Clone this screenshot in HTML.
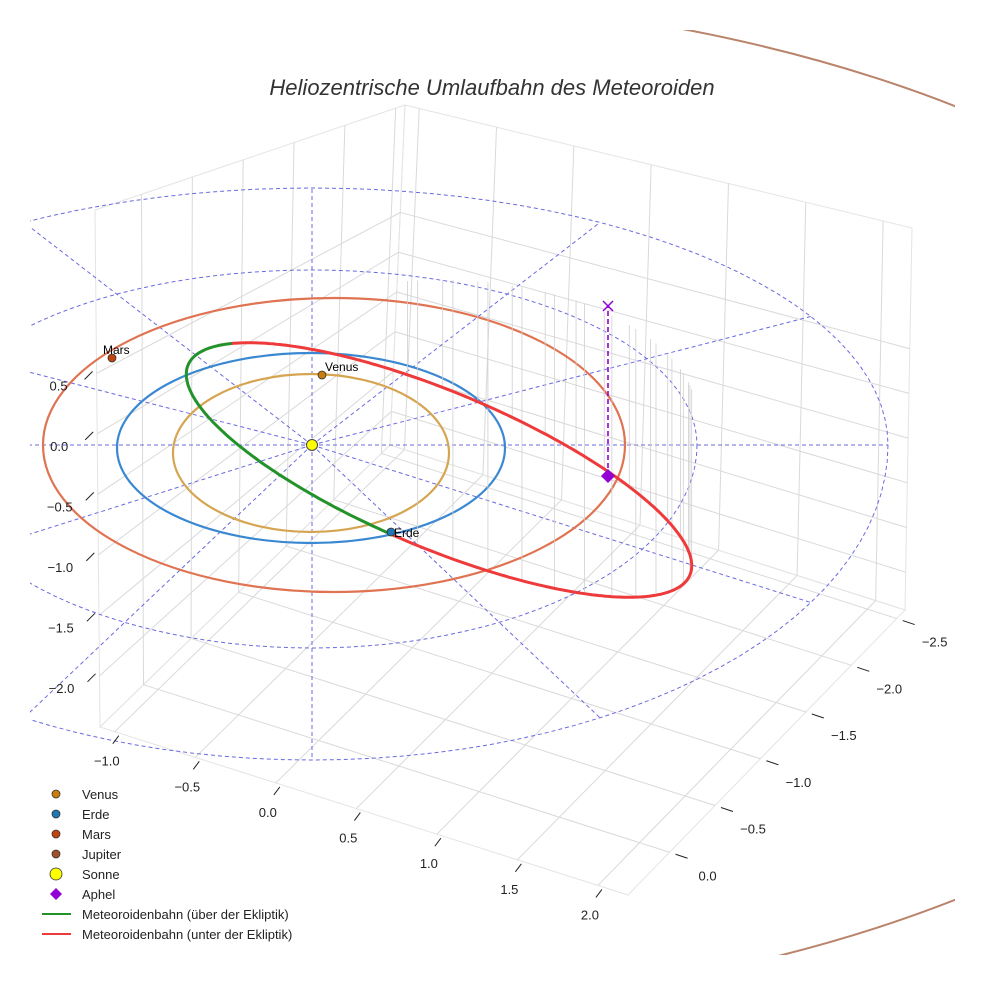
<!DOCTYPE html>
<html><head><meta charset="utf-8">
<style>
html,body{margin:0;padding:0;background:#fff;}
svg{display:block;font-family:"Liberation Sans",sans-serif;}
</style></head>
<body>
<svg id="chart" width="984" height="984" viewBox="0 0 984 984">
<defs><clipPath id="clip"><rect x="30" y="30" width="925" height="925"/></clipPath></defs>
<text x="492" y="95" text-anchor="middle" font-size="22" font-style="italic" fill="#333">Heliozentrische Umlaufbahn des Meteoroiden</text>
<g id="grid" clip-path="url(#clip)"></g>
<g id="plot" clip-path="url(#clip)"></g>
<g id="ticks"></g>
<g id="legend"></g>
</svg>
<script>
// ---- data ----
const xTickLabels = ["−1.0","−0.5","0.0","0.5","1.0","1.5","2.0"];
const yTickLabels = ["0.0","−0.5","−1.0","−1.5","−2.0","−2.5"];
const zTickLabels = ["0.5","0.0","−0.5","−1.0","−1.5","−2.0"];
const planetNames = ["Venus","Erde","Mars"];
const planetX = [322, 391, 112];
const planetY = [375, 532, 358];
const planetColors = ["#c87d0e","#1f77b4","#c1440e"];
const orbitNames = ["venus-orbit","earth-orbit","mars-orbit","jupiter-orbit"];
const orbitCx = [311, 311, 334, 312];
const orbitCy = [453, 448, 445, 503];
const orbitRx = [138, 194, 291, 1030];
const orbitRy = [79, 95, 147, 508];
const orbitColors = ["#d6a552","#3a88d2","#e07352","#b9846b"];
// ecliptic reference circles: left/right extents and top/bottom extents (screen)
const eclipticLeft = [-73, -264];
const eclipticRight = [697, 888];
const eclipticTop = [270, 188];
const eclipticBottom = [648, 760];
const radialAngles = [0,30,60,90,120,150,180,210,240,270,300,330];
const sunPos = [312, 445];
const aphelPos = [608, 476];
const aphelTopY = 306;
// meteoroid orbit (screen ellipse)
const metCenter = [439, 470];
const metAxes = [272, 78];
const metRotDeg = 22.7;
const greenRangeDeg = [94.6, 208];

const NS = "http://www.w3.org/2000/svg";
function mk(tag, attrs, parent){const e=document.createElementNS(NS,tag);for(const k in attrs)e.setAttribute(k,attrs[k]);parent.appendChild(e);return e;}
const grid=document.getElementById('grid'), plot=document.getElementById('plot'), ticks=document.getElementById('ticks'), legend=document.getElementById('legend');

// box geometry
const L=[100,727],F=[628,895],R=[905,610],B=[390,445],Lt=[95,210],Bt=[405,105],Rt=[912,228];
function quad(p00,p10,p01,p11,s,t){return [0,1].map(i=>(1-s)*(1-t)*p00[i]+s*(1-t)*p10[i]+(1-s)*t*p01[i]+s*t*p11[i]);}
const xFrac=i=>0.028+i*0.1525, yFrac=i=>0.15+i*0.164, zFrac=i=>0.684-i*0.117;
function gl(a,b,name){const e=mk('line',{x1:a[0],y1:a[1],x2:b[0],y2:b[1],stroke:'#d9d9d9','stroke-width':1},grid);}
for(const [p,name] of [[[L,F,R,B],'floor-pane'],[[L,B,Bt,Lt],'left-pane'],[[B,R,Rt,Bt],'right-pane']]){
  const e=mk('polygon',{points:p.map(q=>q.join(',')).join(' '),fill:'none',stroke:'#e4e4e4','stroke-width':1},grid);
  
}
xTickLabels.forEach((_,i)=>{const s=xFrac(i);
  gl(quad(L,F,B,R,s,0),quad(L,F,B,R,s,1),'floor-grid-x');
  gl(quad(B,R,Bt,Rt,s,0),quad(B,R,Bt,Rt,s,1),'right-pane-grid-x');});
yTickLabels.forEach((_,i)=>{const t=yFrac(i);
  gl(quad(L,F,B,R,0,t),quad(L,F,B,R,1,t),'floor-grid-y');
  gl(quad(L,B,Lt,Bt,t,0),quad(L,B,Lt,Bt,t,1),'left-pane-grid-y');});
zTickLabels.forEach((_,i)=>{const w=zFrac(i);
  gl(quad(L,B,Lt,Bt,0,w),quad(L,B,Lt,Bt,1,w),'left-pane-grid-z');
  gl(quad(B,R,Bt,Rt,0,w),quad(B,R,Bt,Rt,1,w),'right-pane-grid-z');});

// ticks and labels
function tickLabel(x,y,txt,name){const e=mk('text',{x:x,y:y,'font-size':13,fill:'#222','text-anchor':'middle'},ticks);e.textContent=txt;}
xTickLabels.forEach((lab,i)=>{const p=quad(L,F,B,R,xFrac(i),0);
  mk('line',{x1:p[0]-2,y1:p[1]+12,x2:p[0]+4,y2:p[1]+4,stroke:'#222','stroke-width':1},ticks);
  tickLabel(p[0]-8,p[1]+34,lab,'x-tick-label');});
yTickLabels.forEach((lab,i)=>{const p=quad(L,F,B,R,1,yFrac(i));
  mk('line',{x1:p[0]+6,y1:p[1]+2,x2:p[0]+18,y2:p[1]+6,stroke:'#222','stroke-width':1},ticks);
  tickLabel(p[0]+38,p[1]+28,lab,'y-tick-label');});
zTickLabels.forEach((lab,i)=>{const p=quad(L,B,Lt,Bt,0,zFrac(i));
  mk('line',{x1:p[0]-12,y1:p[1]+6,x2:p[0]-4,y2:p[1]-2,stroke:'#222','stroke-width':1},ticks);
  tickLabel(p[0]-38,p[1]+17,lab,'z-tick-label');});

// ecliptic circles and radial lines
function eclPt(i,deg){const r=deg*Math.PI/180,c=Math.cos(r),s=Math.sin(r);
  const x=sunPos[0]+(c>=0?(eclipticRight[i]-sunPos[0]):(sunPos[0]-eclipticLeft[i]))*c;
  const y=sunPos[1]+(s>=0?(eclipticBottom[i]-sunPos[1]):(sunPos[1]-eclipticTop[i]))*s;return [x,y];}
eclipticRight.forEach((_,i)=>{let d='';for(let a=0;a<=360;a+=3){const p=eclPt(i,a);d+=(d?'L':'M')+p[0].toFixed(1)+','+p[1].toFixed(1);}
  const e=mk('path',{d:d,fill:'none',stroke:'#6a6ae0','stroke-width':1,'stroke-dasharray':'4,3'},plot);
  });
radialAngles.forEach(a=>{const p=eclPt(1,a);
  const e=mk('line',{x1:sunPos[0],y1:sunPos[1],x2:p[0],y2:p[1],stroke:'#6a6ae0','stroke-width':1,'stroke-dasharray':'4,3'},plot);
  });

// planet orbits
orbitNames.forEach((n,i)=>{const e=mk('ellipse',{cx:orbitCx[i],cy:orbitCy[i],rx:orbitRx[i],ry:orbitRy[i],fill:'none',stroke:orbitColors[i],'stroke-width':i==3?2:2.2},plot);
  });

// meteoroid orbit
const th=metRotDeg*Math.PI/180;
function met(tdeg){const t=tdeg*Math.PI/180;const a=metAxes[0]*Math.cos(t),b=metAxes[1]*Math.sin(t);
  return [metCenter[0]+a*Math.cos(th)-b*Math.sin(th), metCenter[1]+a*Math.sin(th)+b*Math.cos(th)];}
for(let t=greenRangeDeg[1]+8;t<greenRangeDeg[0]+360;t+=8){const p=met(t);
  if(p[0]<395) continue;
  const dx=(p[0]-440)/258; if(Math.abs(dx)>1) continue;
  const top=420-140*Math.sqrt(1-dx*dx);
  if(top>=p[1]-5) continue;
  const e=mk('line',{x1:p[0],y1:p[1],x2:p[0],y2:top,stroke:'#cfcfcf','stroke-width':0.8},plot);
  }
function arc(t0,t1,color,name){let d='';for(let t=t0;t<=t1+0.01;t+=1){const p=met(t);d+=(d?'L':'M')+p[0].toFixed(1)+','+p[1].toFixed(1);}
  const e=mk('path',{d:d,fill:'none',stroke:color,'stroke-width':3,'stroke-linecap':'round'},plot);}
arc(greenRangeDeg[1],greenRangeDeg[0]+360,'#ee3a3a','meteoroid-orbit-below');
arc(greenRangeDeg[0],greenRangeDeg[1],'#22922a','meteoroid-orbit-above');

// aphel
const al=mk('line',{x1:aphelPos[0],y1:aphelPos[1],x2:aphelPos[0],y2:aphelTopY,stroke:'#9400d3','stroke-width':1.6,'stroke-dasharray':'5,3'},plot);

const ax=mk('path',{d:`M${aphelPos[0]-5},${aphelTopY-5}L${aphelPos[0]+5},${aphelTopY+5}M${aphelPos[0]+5},${aphelTopY-5}L${aphelPos[0]-5},${aphelTopY+5}`,stroke:'#9400d3','stroke-width':1.5},plot);

const ad=mk('path',{d:`M${aphelPos[0]},${aphelPos[1]-7}L${aphelPos[0]+7},${aphelPos[1]}L${aphelPos[0]},${aphelPos[1]+7}L${aphelPos[0]-7},${aphelPos[1]}Z`,fill:'#9400d3'},plot);


// sun and planets
const sun=mk('circle',{cx:sunPos[0],cy:sunPos[1],r:5.5,fill:'#ffff00',stroke:'#444','stroke-width':1},plot);

planetNames.forEach((n,i)=>{const c=mk('circle',{cx:planetX[i],cy:planetY[i],r:4,fill:planetColors[i],stroke:'#333','stroke-width':0.8},plot);
  
  const tx=i==2?mk('text',{x:planetX[i]-9,y:planetY[i]-4,'font-size':12,fill:'#000'},plot):mk('text',{x:planetX[i]+3,y:planetY[i]+(i==1?5:-4),'font-size':12,fill:'#000'},plot);
  tx.textContent=n;});

// legend
const legNames=["Venus","Erde","Mars","Jupiter","Sonne","Aphel","Meteoroidenbahn (über der Ekliptik)","Meteoroidenbahn (unter der Ekliptik)"];
const legColors=["#c87d0e","#1f77b4","#c1440e","#a0522d","#ffff00","#9400d3","#22922a","#ee3a3a"];
legNames.forEach((n,i)=>{const y=794+i*20;let m;
  if(i<5) m=mk('circle',{cx:56,cy:y,r:i==4?6:4,fill:legColors[i],stroke:'#333','stroke-width':0.8},legend);
  else if(i==5) m=mk('path',{d:`M56,${y-6}L62,${y}L56,${y+6}L50,${y}Z`,fill:legColors[i]},legend);
  else m=mk('line',{x1:42,y1:y,x2:71,y2:y,stroke:legColors[i],'stroke-width':2},legend);
  
  const t=mk('text',{x:82,y:y+5,'font-size':13,fill:'#222'},legend);t.textContent=n;
  });
</script>
</body></html>
